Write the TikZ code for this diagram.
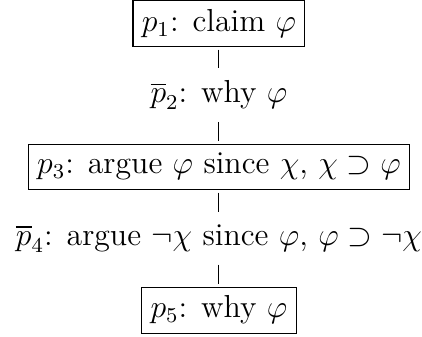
\documentclass[tikz,border=0pt]{standalone}
\usepackage{amsmath, amssymb}
\usepackage{tikz}
\usetikzlibrary{positioning}
\tikzset{
  movebox/.style  = {draw, line width=0.4pt, font=\large},
  movetext/.style = {font=\large},
  moveedge/.style = {draw, line width=0.4pt, shorten <=1pt, shorten >=1pt},
}

\begin{document}
\begin{tikzpicture}[x=1cm, y=0.95cm]
    \node[movebox] (p1) at (0,0) {$p_1$: claim $\varphi$};
    \node[movetext] (p2) at (0,-1) {$\overline{p}_2$: why $\varphi$};
    \node[movebox] (p3) at (0,-2) {$p_3$: argue $\varphi$ since $\chi$, $\chi \supset \varphi$};
    \node[movetext] (p4) at (0,-3) {$\overline{p}_4$: argue $\neg\chi$ since $\varphi$, $\varphi \supset \neg\chi$};
    \node[movebox] (p5) at (0,-4) {$p_5$: why $\varphi$};
    \draw[moveedge] (p1) -- (p2);
    \draw[moveedge] (p2) -- (p3);
    \draw[moveedge] (p3) -- (p4);
    \draw[moveedge] (p4) -- (p5);
    \pgfresetboundingbox
    \useasboundingbox ([xshift=-10.5pt]p3.west |- p1.north) rectangle
      ([xshift=4.5pt,yshift=-1.1pt]p3.east |- p5.south);
  \end{tikzpicture}
\end{document}
